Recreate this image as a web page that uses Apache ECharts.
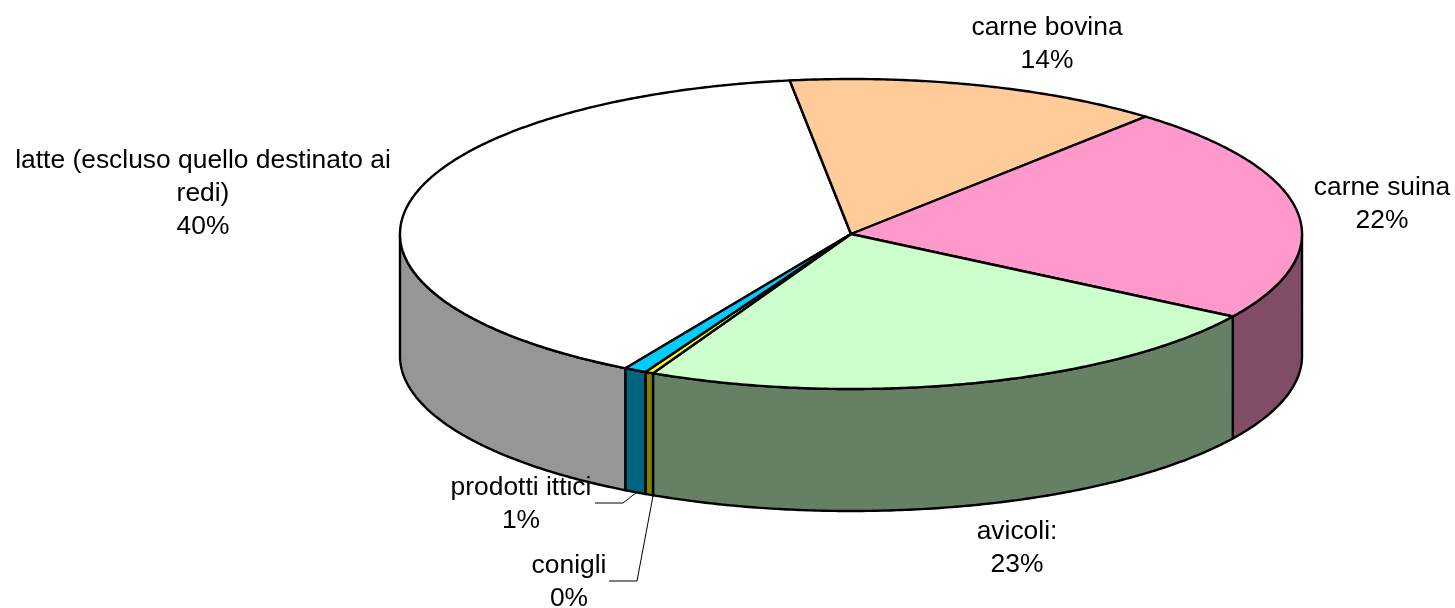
<!DOCTYPE html>
<html>
<head>
<meta charset="utf-8">
<style>
  html, body { margin: 0; padding: 0; background: #fff; }
  #chart { width: 1455px; height: 608px; }
</style>
<script src="https://cdn.jsdelivr.net/npm/echarts@6/dist/echarts.min.js"></script>
</head>
<body>
<div id="chart"></div>
<script>
const categories = ['latte (escluso quello destinato ai\nredi)', 'carne bovina', 'carne suina', 'avicoli:', 'conigli', 'prodotti ittici'];
const shares = [39.5, 13.5, 22.6, 23.3, 0.3, 0.8];
const percentLabels = ['40%', '14%', '22%', '23%', '0%', '1%'];

const topColors = ['#FFFFFF', '#FFCC99', '#FF99CC', '#CCFFCC', '#FFFF00', '#00CCFF'];
const sideColors = ['#969696', '#806650', '#804C66', '#668066', '#808000', '#006680'];
const labelAnchors = [[203, 194], [1047, 44], [1382, 204], [1017, 548], [569, 582], [521, 504]];
const leaderLines = [null, null, null, null, [[609, 581], [637, 581], [653, 496]], [[595, 503], [623, 503], [637, 492]]];

// pie geometry, in pixels
const cx = 851, cy = 234, rx = 451, ry = 155, depth = 122;
const startDeg = 210;
const total = shares.reduce((a, b) => a + b, 0);

const angles = [];
let running = startDeg;
shares.forEach(v => {
  const sweep = v / total * 360;
  angles.push([running, running + sweep]);
  running += sweep;
});

// degrees clockwise from the top of the ellipse
function rimPoint(deg, dy) {
  const a = deg * Math.PI / 180;
  return [cx + rx * Math.sin(a), cy - ry * Math.cos(a) + dy];
}
function arc(from, to, dy) {
  const pts = [];
  const n = Math.max(2, Math.ceil(Math.abs(to - from) * 2));
  for (let i = 0; i <= n; i++) pts.push(rimPoint(from + (to - from) * i / n, dy));
  return pts;
}
const lineStyle = { stroke: '#000', lineWidth: 2.4, lineJoin: 'round' };

function renderSlice(params, api) {
  const i = api.value(0);
  const [from, to] = angles[i];
  const children = [];
  // the wall only shows on the front half, 90 to 270 degrees
  [[from, to], [from - 360, to - 360]].forEach(([a, b]) => {
    const f = Math.max(a, 90), t = Math.min(b, 270);
    if (t > f) {
      children.push({
        type: 'polygon',
        shape: { points: arc(f, t, 0).concat(arc(t, f, depth)) },
        style: Object.assign({ fill: sideColors[i] }, lineStyle)
      });
    }
  });
  children.push({
    type: 'polygon',
    shape: { points: [[cx, cy]].concat(arc(from, to, 0)) },
    style: Object.assign({ fill: topColors[i] }, lineStyle)
  });
  return { type: 'group', children };
}

function renderLabel(params, api) {
  const i = api.value(0);
  const children = [];
  if (leaderLines[i]) {
    children.push({
      type: 'polyline',
      shape: { points: leaderLines[i] },
      style: { stroke: '#000', lineWidth: 1, fill: null }
    });
  }
  children.push({
    type: 'text',
    x: labelAnchors[i][0],
    y: labelAnchors[i][1],
    style: {
      text: categories[i] + '\n' + percentLabels[i],
      font: '26.4px "Liberation Sans", Arial, sans-serif',
      lineHeight: 33,
      fill: '#000',
      align: 'center',
      verticalAlign: 'middle'
    }
  });
  return { type: 'group', children };
}

const indexData = shares.map((v, i) => [i, v]);
const chart = echarts.init(document.getElementById('chart'), null, { renderer: 'canvas' });
chart.setOption({
  animation: false,
  backgroundColor: '#fff',
  series: [
    { type: 'custom', coordinateSystem: 'none', renderItem: renderSlice, data: indexData, silent: true, z: 1 },
    { type: 'custom', coordinateSystem: 'none', renderItem: renderLabel, data: indexData, silent: true, z: 2 }
  ]
});
</script>
</body>
</html>
